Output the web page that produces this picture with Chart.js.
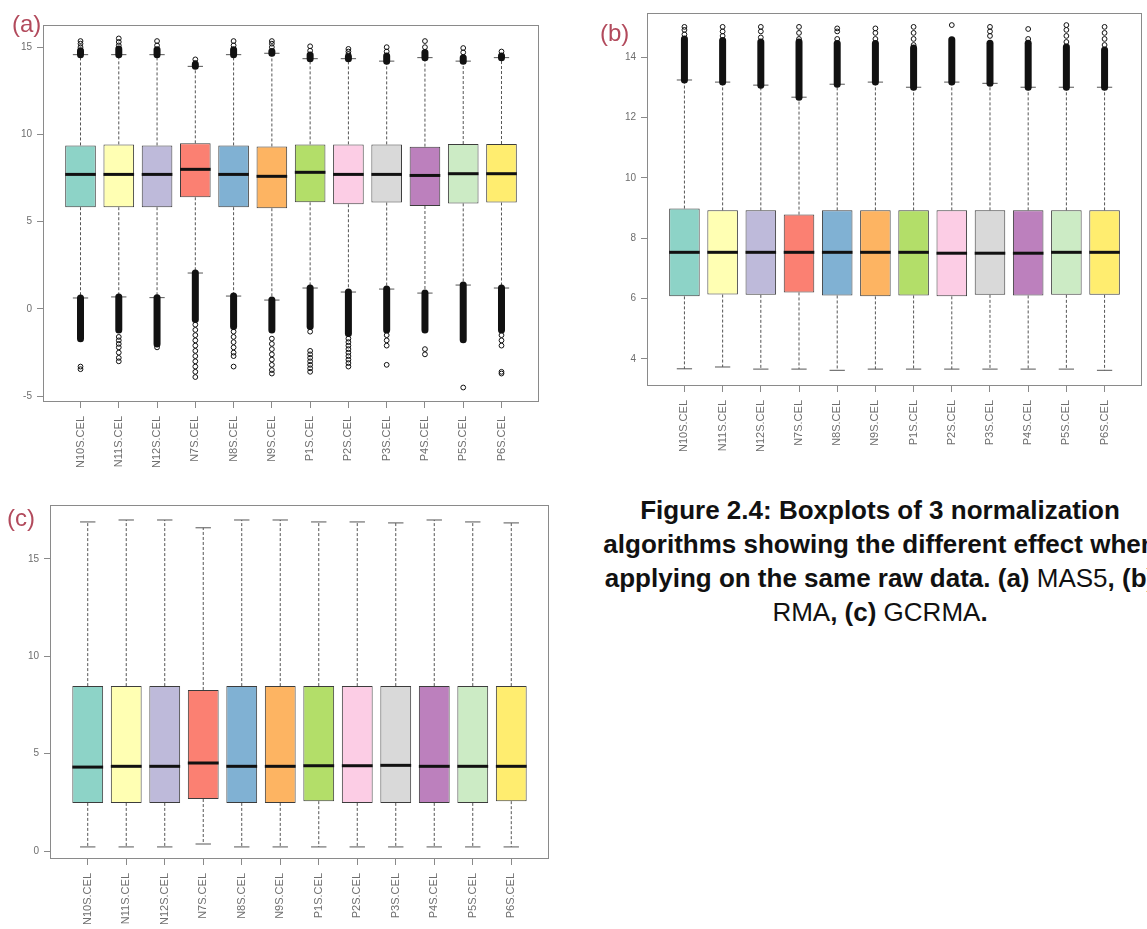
<!DOCTYPE html>
<html>
<head>
<meta charset="utf-8">
<script src="https://cdn.jsdelivr.net/npm/chart.js@4.4.1/dist/chart.umd.min.js"></script>
<style>
  html, body { margin: 0; padding: 0; background: #fff; }
  body { width: 1147px; height: 929px; position: relative; overflow: hidden; font-family: "Liberation Sans", Arial, sans-serif; }
  canvas { position: absolute; }
  .tag { position: absolute; font-size: 24px; line-height: 24px; color: #b24a5c; }
  .caption { position: absolute; left: 580px; top: 493px; width: 600px; text-align: center; font-size: 26px; line-height: 34px; color: #111; white-space: nowrap; }
  .caption b { font-weight: bold; }
</style>
</head>
<body>
<canvas id="chartA" width="560" height="470" style="left:0;top:0"></canvas>
<canvas id="chartB" width="547" height="470" style="left:600px;top:0"></canvas>
<canvas id="chartC" width="560" height="459" style="left:0;top:470px"></canvas>
<div class="tag" style="left:12px;top:12px">(a)</div>
<div class="tag" style="left:600px;top:21px">(b)</div>
<div class="tag" style="left:7px;top:506px">(c)</div>
<div class="caption">
  <b>Figure 2.4: Boxplots of 3 normalization</b><br>
  <b>algorithms showing the different effect when</b><br>
  <b>applying on the same raw data. (a)</b> MAS5<b>, (b)</b><br>
  RMA<b>, (c)</b> GCRMA<b>.</b>
</div>
<script>
// sample names shared by all three panels
const samples = ['N10S.CEL', 'N11S.CEL', 'N12S.CEL', 'N7S.CEL', 'N8S.CEL', 'N9S.CEL',
                 'P1S.CEL', 'P2S.CEL', 'P3S.CEL', 'P4S.CEL', 'P5S.CEL', 'P6S.CEL'];
const boxColors = ['#8DD3C7', '#FFFFB3', '#BEBADA', '#FB8072', '#80B1D3', '#FDB462',
                   '#B3DE69', '#FCCDE5', '#D9D9D9', '#BC80BD', '#CCEBC5', '#FFED6F'];

// (a) MAS5
const mas5Q1 = [5.83, 5.83, 5.83, 6.40, 5.83, 5.77, 6.11, 6.00, 6.10, 5.90, 6.05, 6.10];
const mas5Median = [7.71, 7.71, 7.71, 8.00, 7.71, 7.60, 7.83, 7.71, 7.71, 7.65, 7.75, 7.75];
const mas5Q3 = [9.37, 9.43, 9.37, 9.49, 9.37, 9.31, 9.43, 9.43, 9.43, 9.30, 9.45, 9.45];
const mas5Low = [0.63, 0.69, 0.65, 2.06, 0.74, 0.51, 1.20, 0.97, 1.14, 0.91, 1.37, 1.20];
const mas5High = [14.57, 14.57, 14.57, 13.90, 14.57, 14.65, 14.34, 14.34, 14.20, 14.40, 14.20, 14.40];
// ends of the packed outlier runs beyond each whisker
const mas5RunLow = [-1.7, -1.2, -2.0, -0.6, -1.0, -1.2, -1.0, -1.4, -1.2, -1.2, -1.77, -1.2];
const mas5RunHigh = [14.8, 14.9, 14.85, 14.0, 14.85, 14.75, 14.55, 14.45, 14.5, 14.7, 14.4, 14.5];
const mas5Outliers = [
  [-3.3, -3.45, 15.0, 15.2, 15.35],
  [-1.6, -1.8, -2.0, -2.2, -2.5, -2.8, -3.0, 15.1, 15.3, 15.5],
  [-2.2, 15.1, 15.35],
  [-0.9, -1.2, -1.5, -1.8, -2.1, -2.4, -2.7, -3.0, -3.3, -3.6, -3.9, 14.1, 14.3],
  [-1.3, -1.6, -1.9, -2.2, -2.5, -2.7, -3.3, 15.1, 15.35],
  [-1.7, -2.0, -2.3, -2.6, -2.9, -3.2, -3.5, -3.7, 15.0, 15.2, 15.35],
  [-1.3, -2.4, -2.6, -2.8, -3.0, -3.2, -3.4, -3.6, 14.8, 15.05],
  [-1.7, -1.9, -2.1, -2.3, -2.5, -2.7, -2.9, -3.1, -3.3, 14.6, 14.75, 14.9],
  [-1.5, -1.8, -2.1, -3.2, 14.75, 15.0],
  [-2.3, -2.6, 15.0, 15.35],
  [-4.5, 14.7, 14.95],
  [-1.5, -1.8, -2.1, -3.6, -3.7, 14.75],
];
const mas5Ticks = [-5, 0, 5, 10, 15];

// (b) RMA
const rmaQ1 = [6.07, 6.13, 6.12, 6.20, 6.10, 6.07, 6.10, 6.07, 6.12, 6.10, 6.12, 6.12];
const rmaMedian = [7.53, 7.53, 7.53, 7.53, 7.53, 7.53, 7.53, 7.50, 7.50, 7.50, 7.53, 7.53];
const rmaQ3 = [8.98, 8.92, 8.92, 8.78, 8.92, 8.92, 8.92, 8.92, 8.92, 8.92, 8.92, 8.92];
const rmaLow = [3.67, 3.73, 3.66, 3.66, 3.62, 3.66, 3.66, 3.66, 3.66, 3.66, 3.66, 3.62];
const rmaHigh = [13.24, 13.17, 13.07, 12.67, 13.10, 13.17, 13.00, 13.17, 13.13, 13.00, 13.00, 13.00];
const rmaRunHigh = [14.6, 14.55, 14.5, 14.5, 14.45, 14.45, 14.3, 14.57, 14.46, 14.46, 14.33, 14.23];
const rmaOutliers = [
  [14.75, 14.9, 15.0],
  [14.7, 14.85, 15.0],
  [14.65, 14.85, 15.0],
  [14.6, 14.8, 15.0],
  [14.6, 14.85, 14.95],
  [14.6, 14.8, 14.95],
  [14.4, 14.6, 14.8, 15.0],
  [15.06],
  [14.7, 14.85, 15.0],
  [14.6, 14.93],
  [14.5, 14.7, 14.9, 15.06],
  [14.4, 14.6, 14.8, 15.0],
];
const rmaTicks = [4, 6, 8, 10, 12, 14];

// (c) GCRMA
const gcrmaQ1 = [2.47, 2.47, 2.47, 2.67, 2.47, 2.47, 2.56, 2.47, 2.47, 2.47, 2.47, 2.56];
const gcrmaMedian = [4.31, 4.35, 4.35, 4.52, 4.35, 4.35, 4.38, 4.38, 4.40, 4.35, 4.35, 4.35];
const gcrmaQ3 = [8.47, 8.47, 8.47, 8.27, 8.47, 8.47, 8.47, 8.47, 8.47, 8.47, 8.47, 8.47];
const gcrmaLow = [0.21, 0.21, 0.21, 0.36, 0.21, 0.21, 0.21, 0.21, 0.21, 0.21, 0.21, 0.21];
const gcrmaHigh = [16.9, 17.0, 17.0, 16.6, 17.0, 17.0, 16.9, 16.9, 16.85, 17.0, 16.9, 16.85];
const gcrmaTicks = [0, 5, 10, 15];

// whiskers, caps, medians and packed outlier runs, drawn through the chart scales
const boxExtras = {
  id: 'boxExtras',
  afterDatasetsDraw(chart, args, opts) {
    const { ctx, chartArea, scales: { x, y } } = chart;
    const s = opts.stats;
    const line = (x1, y1, x2, y2) => { ctx.beginPath(); ctx.moveTo(x1, y1); ctx.lineTo(x2, y2); ctx.stroke(); };
    ctx.save();
    s.median.forEach((m, i) => {
      const cx = x.getPixelForValue(i + 1);
      const half = x.getPixelForValue(i + 1.4) - cx;
      const cap = half / 2;
      ctx.strokeStyle = '#555';
      ctx.lineWidth = 1;
      ctx.setLineDash([3, 2]);
      line(cx, y.getPixelForValue(s.q3[i]), cx, y.getPixelForValue(s.high[i]));
      line(cx, y.getPixelForValue(s.q1[i]), cx, y.getPixelForValue(s.low[i]));
      ctx.setLineDash([]);
      line(cx - cap, y.getPixelForValue(s.high[i]), cx + cap, y.getPixelForValue(s.high[i]));
      line(cx - cap, y.getPixelForValue(s.low[i]), cx + cap, y.getPixelForValue(s.low[i]));
      ctx.strokeStyle = '#111';
      ctx.lineWidth = 3;
      line(cx - half, y.getPixelForValue(m), cx + half, y.getPixelForValue(m));
      ctx.lineWidth = 7;
      ctx.lineCap = 'round';
      if (s.runLow) line(cx, y.getPixelForValue(s.low[i]), cx, y.getPixelForValue(s.runLow[i]));
      if (s.runHigh) line(cx, y.getPixelForValue(s.high[i]), cx, y.getPixelForValue(s.runHigh[i]));
      ctx.lineCap = 'butt';
    });
    // plot frame
    ctx.strokeStyle = '#8a8a8a';
    ctx.lineWidth = 1;
    ctx.strokeRect(chartArea.left + 0.5, chartArea.top + 0.5,
                   chartArea.right - chartArea.left - 1, chartArea.bottom - chartArea.top - 1);
    ctx.restore();
  }
};

function drawBoxplot(canvasId, s, layout) {
  const canvas = document.getElementById(canvasId);
  const positions = samples.map((_, i) => i + 1);
  const outlierPoints = (s.outliers || []).flatMap((vals, i) => vals.map(v => ({ x: i + 1, y: v })));
  const tickFont = { family: '"Liberation Sans", Arial, sans-serif', size: 10 };

  new Chart(canvas, {
    type: 'bar',
    plugins: [boxExtras],
    data: {
      datasets: [
        {
          type: 'bar',
          data: positions.map((p, i) => ({ x: p, y: [s.q1[i], s.q3[i]] })),
          backgroundColor: boxColors,
          borderColor: '#3c3c3c',
          borderWidth: 1,
          borderSkipped: false,
          barPercentage: 0.8,
          categoryPercentage: 1,
        },
        {
          type: 'scatter',
          data: outlierPoints,
          pointRadius: 2.4,
          pointBorderWidth: 1,
          pointBackgroundColor: 'rgba(255,255,255,0)',
          pointBorderColor: '#111',
        },
      ],
    },
    options: {
      responsive: false,
      animation: false,
      devicePixelRatio: 1,
      layout: { padding: { top: layout.top, right: layout.right, left: 0, bottom: 0 } },
      plugins: { legend: { display: false }, tooltip: { enabled: false }, boxExtras: { stats: s } },
      scales: {
        x: {
          type: 'linear',
          min: 0.02,
          max: 12.98,
          offset: false,
          afterBuildTicks: (axis) => { axis.ticks = positions.map(v => ({ value: v })); },
          afterFit: (axis) => { axis.height = layout.xHeight; },
          grid: { display: true, offset: false, drawOnChartArea: false, drawTicks: true, tickLength: 6, color: '#8a8a8a' },
          border: { display: false },
          ticks: {
            autoSkip: false, minRotation: 90, maxRotation: 90, padding: 8,
            color: '#6e6e6e', font: { ...tickFont, size: 11 },
            callback: (v) => samples[v - 1],
          },
        },
        y: {
          min: layout.yMin,
          max: layout.yMax,
          afterBuildTicks: (axis) => { axis.ticks = s.ticks.map(v => ({ value: v })); },
          afterFit: (axis) => { axis.width = layout.yWidth; },
          grid: { display: true, drawOnChartArea: false, drawTicks: true, tickLength: 6, color: '#8a8a8a' },
          border: { display: false },
          ticks: { padding: 5, color: '#6e6e6e', font: tickFont },
        },
      },
    },
  });
}

drawBoxplot('chartA', {
  q1: mas5Q1, median: mas5Median, q3: mas5Q3, low: mas5Low, high: mas5High,
  runLow: mas5RunLow, runHigh: mas5RunHigh, outliers: mas5Outliers, ticks: mas5Ticks,
}, { top: 25, right: 21, yWidth: 43, xHeight: 68, yMin: -5.33, yMax: 16.27 });

drawBoxplot('chartB', {
  q1: rmaQ1, median: rmaMedian, q3: rmaQ3, low: rmaLow, high: rmaHigh,
  runHigh: rmaRunHigh, outliers: rmaOutliers, ticks: rmaTicks,
}, { top: 13, right: 2, yWidth: 47, xHeight: 84, yMin: 3.1, yMax: 15.46 });

drawBoxplot('chartC', {
  q1: gcrmaQ1, median: gcrmaMedian, q3: gcrmaQ3, low: gcrmaLow, high: gcrmaHigh,
  outliers: [], ticks: gcrmaTicks,
}, { top: 35, right: 11, yWidth: 50, xHeight: 70, yMin: -0.41, yMax: 17.77 });
</script>
</body>
</html>
